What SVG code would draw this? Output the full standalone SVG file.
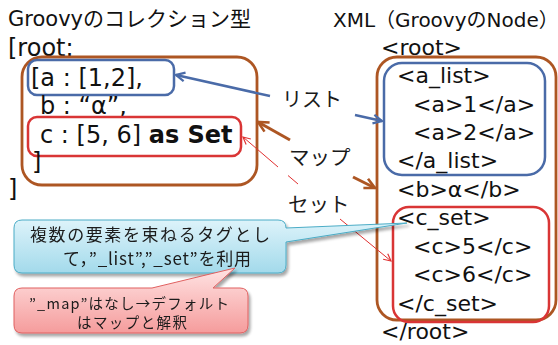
<svg xmlns="http://www.w3.org/2000/svg" width="558" height="345" viewBox="0 0 558 345">
<style>
.t{font-family:"DejaVu Sans","Noto Sans CJK JP",sans-serif;fill:#111}
.l{font-size:24px}
.r{font-size:22px}
.jp{font-family:"Noto Sans CJK JP","DejaVu Sans",sans-serif;fill:#1a1a1a}
.brown{fill:none;stroke:#AD5623;stroke-width:2.8}
.blue{fill:none;stroke:#4A6BA8;stroke-width:2.5}
.red{fill:none;stroke:#D93535;stroke-width:2.5}
</style>
<defs>
<marker id="ab" viewBox="0 0 10 10" refX="9" refY="5" markerUnits="userSpaceOnUse" markerWidth="11" markerHeight="11" orient="auto-start-reverse"><path d="M1,1 L9,5 L1,9" fill="none" stroke="#4A6BA8" stroke-width="2"/></marker>
<marker id="ao" viewBox="0 0 10 10" refX="9" refY="5" markerUnits="userSpaceOnUse" markerWidth="13" markerHeight="13" orient="auto-start-reverse"><path d="M1,1 L9,5 L1,9" fill="none" stroke="#AD5623" stroke-width="2"/></marker>
<marker id="ar" viewBox="0 0 10 10" refX="9" refY="5" markerUnits="userSpaceOnUse" markerWidth="9" markerHeight="9" orient="auto-start-reverse"><path d="M1,1 L9,5 L1,9" fill="none" stroke="#E03030" stroke-width="1.3"/></marker>
<linearGradient id="gb" x1="0" y1="0" x2="0" y2="1"><stop offset="0" stop-color="#DDF3FA"/><stop offset="1" stop-color="#A3DAEB"/></linearGradient>
<linearGradient id="gr" x1="0" y1="0" x2="0" y2="1"><stop offset="0" stop-color="#FFE3E3"/><stop offset="1" stop-color="#F59C9C"/></linearGradient>
<filter id="sh" x="-10%" y="-20%" width="130%" height="160%"><feGaussianBlur in="SourceAlpha" stdDeviation="1.5"/><feOffset dx="2" dy="3"/><feComponentTransfer><feFuncA type="linear" slope="0.35"/></feComponentTransfer><feMerge><feMergeNode/><feMergeNode in="SourceGraphic"/></feMerge></filter>
</defs>

<g id="groovy">
<text class="t" x="8" y="26" font-size="21">Groovyのコレクション型</text>
<text class="t l" x="8" y="56">[root:</text>
<g id="groovy-map"><rect class="brown" x="22" y="57" width="235" height="128" rx="20"/></g>
<g id="groovy-list"><rect class="blue" x="28" y="60" width="146" height="35" rx="9"/>
<text class="t l" x="31" y="86">[a : [1,2],</text></g>
<text class="t l" x="40" y="114">b : “α”,</text>
<g id="groovy-set"><rect class="red" x="28" y="117" width="213" height="39" rx="9"/>
<text class="t l" x="40" y="143">c : [5, 6] <tspan font-weight="bold">as Set</tspan></text></g>
<text class="t l" x="32" y="170">]</text>
<text class="t l" x="8" y="197">]</text>
</g>

<g id="xml">
<text class="t" x="333" y="27" font-size="20">XML（GroovyのNode）</text>
<text class="t r" x="381" y="55">&lt;root&gt;</text>
<g id="xml-root"><rect class="brown" x="377" y="57" width="179" height="263" rx="20"/></g>
<g id="xml-list"><rect class="blue" x="384" y="63" width="161" height="112" rx="18"/>
<text class="t r" x="397" y="83">&lt;a_list&gt;</text>
<text class="t r" x="413" y="112">&lt;a&gt;1&lt;/a&gt;</text>
<text class="t r" x="413" y="140">&lt;a&gt;2&lt;/a&gt;</text>
<text class="t r" x="397" y="168">&lt;/a_list&gt;</text></g>
<text class="t r" x="397" y="197">&lt;b&gt;α&lt;/b&gt;</text>
<g id="xml-set"><rect class="red" x="393" y="207" width="156" height="115" rx="16"/>
<text class="t r" x="397" y="225">&lt;c_set&gt;</text>
<text class="t r" x="413" y="254">&lt;c&gt;5&lt;/c&gt;</text>
<text class="t r" x="413" y="282">&lt;c&gt;6&lt;/c&gt;</text>
<text class="t r" x="397" y="311">&lt;/c_set&gt;</text></g>
<text class="t r" x="381" y="339">&lt;/root&gt;</text>
</g>

<g id="connectors">
<line x1="176" y1="75" x2="270" y2="96" stroke="#4A6BA8" stroke-width="2.5" marker-start="url(#ab)"/>
<line x1="355" y1="115" x2="382" y2="121" stroke="#4A6BA8" stroke-width="2.5" marker-end="url(#ab)"/>
<line x1="258" y1="122" x2="290" y2="140" stroke="#AD5623" stroke-width="3" marker-start="url(#ao)"/>
<line x1="353" y1="177" x2="375" y2="188" stroke="#AD5623" stroke-width="3" marker-end="url(#ao)"/>
<line x1="243" y1="137" x2="278" y2="167" stroke="#E03030" stroke-width="1" marker-start="url(#ar)"/>
<line x1="288" y1="175.5" x2="298" y2="184" stroke="#E03030" stroke-width="1"/>
<line x1="340" y1="219" x2="391" y2="261" stroke="#E03030" stroke-width="1" marker-end="url(#ar)"/>
</g>

<g id="labels">
<text class="jp" x="282" y="107" font-size="20">リスト</text>
<text class="jp" x="289" y="165" font-size="20.5">マップ</text>
<text class="jp" x="288" y="212" font-size="20.5">セット</text>
</g>

<g id="callout-tags" filter="url(#sh)">
<path d="M22,220 H278 Q286,220 286,228 L407,223 L286,242 V265 Q286,273 278,273 H22 Q14,273 14,265 V228 Q14,220 22,220 Z" fill="url(#gb)" stroke="#4BACC6" stroke-width="1"/>
<text class="jp" font-size="17" text-anchor="middle"><tspan x="150" y="241" textLength="240" lengthAdjust="spacing">複数の要素を束ねるタグとし</tspan><tspan x="157" y="265" textLength="188" lengthAdjust="spacing">て，”_list”,”_set”を利用</tspan></text>
</g>
<g id="callout-map" filter="url(#sh)">
<path d="M22,288 H152 L235,268 L213,288 H240 Q248,288 248,296 V325 Q248,333 240,333 H22 Q14,333 14,325 V296 Q14,288 22,288 Z" fill="url(#gr)" stroke="#E06060" stroke-width="1"/>
<text class="jp" font-size="14.5" text-anchor="middle"><tspan x="129" y="308.5" textLength="200" lengthAdjust="spacing">”_map”はなし→デフォルト</tspan><tspan x="132" y="328" textLength="110" lengthAdjust="spacing">はマップと解釈</tspan></text>
</g>
</svg>
